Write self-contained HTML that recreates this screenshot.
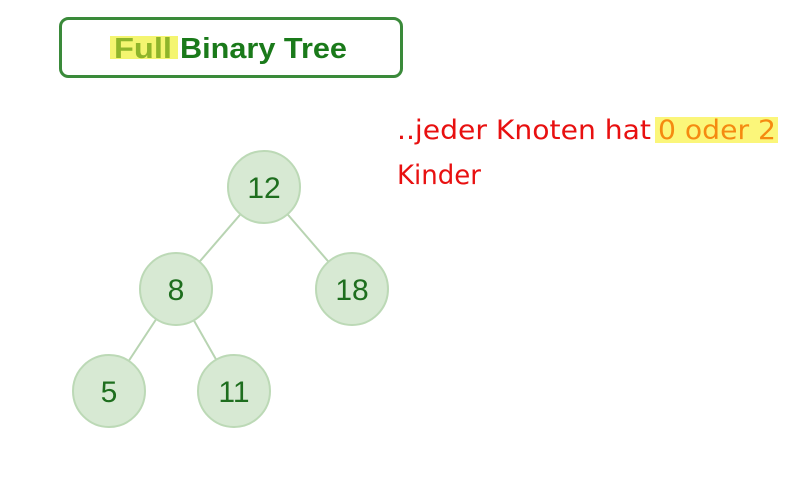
<!DOCTYPE html>
<html><head><style>
body{margin:0;background:#fff;width:805px;height:492px;overflow:hidden}
</style></head><body>
<svg width="805" height="492" xmlns="http://www.w3.org/2000/svg">
<rect x="60.5" y="18.5" width="341" height="58" rx="8" fill="#fff" stroke="#3a8a3a" stroke-width="3"/>
<rect x="110" y="36" width="68" height="23" fill="#f4f570"/>
<g font-family="Liberation Sans, sans-serif" font-weight="bold" font-size="29">
<text x="114" y="58" fill="#8fb52a" textLength="58" lengthAdjust="spacingAndGlyphs">Full</text>
<text x="180" y="58" fill="#1a7a1a" textLength="167" lengthAdjust="spacingAndGlyphs">Binary Tree</text>
</g>
<g stroke="#b8d4b2" stroke-width="2">
<line x1="264" y1="187" x2="176" y2="289"/>
<line x1="264" y1="187" x2="352" y2="289"/>
<line x1="176" y1="289" x2="109" y2="391"/>
<line x1="176" y1="289" x2="234" y2="391"/>
</g>
<g fill="#d7e9d3" stroke="#bcd9b6" stroke-width="2">
<circle cx="264" cy="187" r="36"/>
<circle cx="176" cy="289" r="36"/>
<circle cx="352" cy="289" r="36"/>
<circle cx="109" cy="391" r="36"/>
<circle cx="234" cy="391" r="36"/>
</g>
<g font-family="Liberation Sans, sans-serif" font-size="30" fill="#1e6e1e" text-anchor="middle">
<text x="264" y="198">12</text>
<text x="176" y="300">8</text>
<text x="352" y="300">18</text>
<text x="109" y="402">5</text>
<text x="234" y="402">11</text>
</g>
<rect x="655" y="117" width="123" height="26" fill="#fbf67a"/>
<g font-family="'Comic Sans MS','DejaVu Sans Condensed',sans-serif" font-size="27" fill="#e81010">
<text x="397" y="139" textLength="254" lengthAdjust="spacingAndGlyphs">..jeder Knoten hat</text>
<text x="658" y="139" fill="#f58a10" textLength="118" lengthAdjust="spacingAndGlyphs">0 oder 2</text>
<text x="397" y="184" textLength="84" lengthAdjust="spacingAndGlyphs">Kinder</text>
</g>
</svg>
</body></html>
